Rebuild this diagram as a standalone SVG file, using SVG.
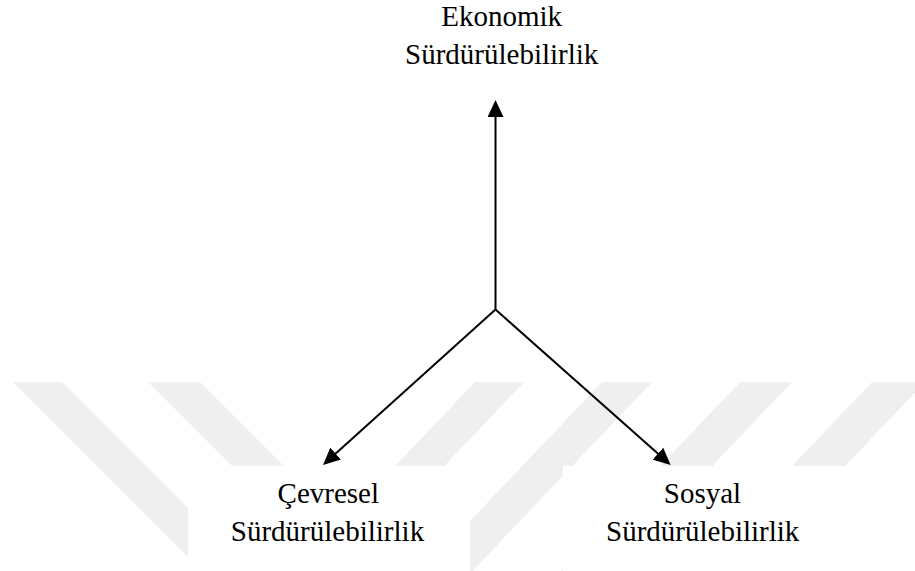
<svg xmlns="http://www.w3.org/2000/svg" width="915" height="571" viewBox="0 0 915 571">
<style>
text{font-family:'Liberation Serif','Times New Roman','DejaVu Serif',serif;font-size:29px;fill:#000;text-anchor:middle}
.conn{stroke:#000;stroke-width:2;fill:none}
.wm{fill:#efefef}
</style>
<defs>
<marker id="arr" markerUnits="userSpaceOnUse" markerWidth="17" markerHeight="16" refX="4" refY="8" orient="auto">
<path d="M0,0 L17,8 L0,16 z" fill="#000"/>
</marker>
</defs>
<rect x="0" y="0" width="915" height="571" fill="#fff"/>
<g id="watermark">
<polygon class="wm" points="13,382 62,382 251,571 202,571"/>
<polygon class="wm" points="148,382 200,382 389,571 337,571"/>
<polygon class="wm" points="475,382 524,382 344.5,571 295.5,571"/>
<polygon class="wm" points="602,382 652,382 472.5,571 422.5,571"/>
<polygon class="wm" points="740,382 792,382 612.5,571 560.5,571"/>
<polygon class="wm" points="872,382 925,382 745.5,571 692.5,571"/>
<rect x="188" y="466" width="282" height="105" fill="#fff"/>
<rect x="563" y="466" width="352" height="105" fill="#fff"/>
</g>
<g id="connectors">
<line class="conn" x1="495.5" y1="310" x2="495.5" y2="113" marker-end="url(#arr)"/>
<line class="conn" x1="495.5" y1="309.5" x2="332.7" y2="456.3" marker-end="url(#arr)"/>
<line class="conn" x1="495.5" y1="309.5" x2="660.9" y2="456.3" marker-end="url(#arr)"/>
</g>
<g id="node-ekonomik">
<text x="501.7" y="26" font-family="Liberation Serif, serif">Ekonomik</text>
<text x="501.7" y="64" font-family="Liberation Serif, serif">Sürdürülebilirlik</text>
</g>
<g id="node-cevresel">
<text x="328.3" y="503" font-family="Liberation Serif, serif">Çevresel</text>
<text x="327.5" y="541" font-family="Liberation Serif, serif">Sürdürülebilirlik</text>
</g>
<g id="node-sosyal">
<text x="702.5" y="503" font-family="Liberation Serif, serif">Sosyal</text>
<text x="702.7" y="541" font-family="Liberation Serif, serif">Sürdürülebilirlik</text>
</g>
</svg>
